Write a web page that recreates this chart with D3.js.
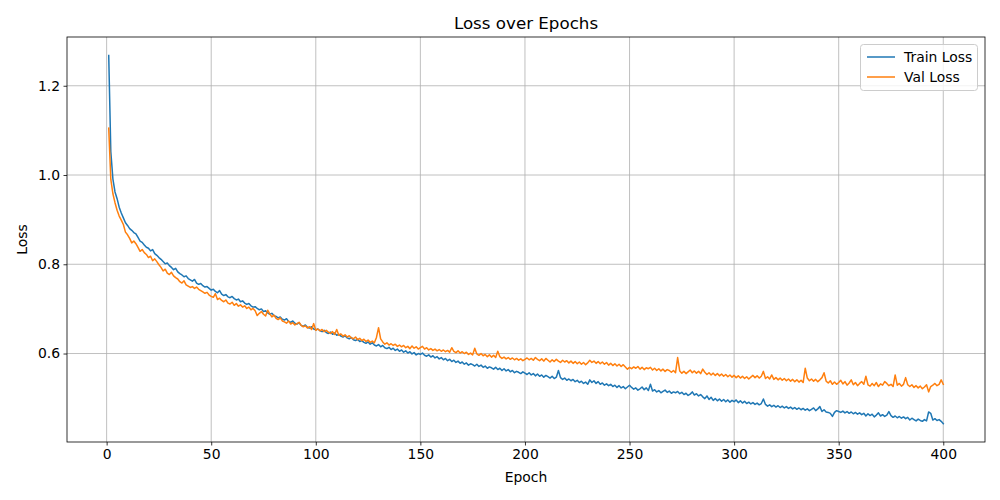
<!DOCTYPE html>
<html><head><meta charset="utf-8">
<script src="https://cdn.jsdelivr.net/npm/d3@7"></script>
<style>body{margin:0;background:#fff}svg{font-family:"DejaVu Sans",sans-serif}</style>
</head><body>
<script>
const trainLoss = [
1.268,1.052,0.991,0.962,0.947,0.928,0.915,0.904,0.893,0.887,
0.880,0.876,0.871,0.868,0.860,0.852,0.849,0.843,0.838,0.836,
0.830,0.833,0.824,0.820,0.815,0.811,0.806,0.801,0.803,0.797,
0.793,0.788,0.791,0.783,0.779,0.776,0.772,0.774,0.768,0.765,
0.762,0.766,0.758,0.755,0.757,0.752,0.749,0.750,0.746,0.742,
0.744,0.739,0.736,0.741,0.733,0.730,0.732,0.727,0.725,0.728,
0.723,0.720,0.722,0.716,0.718,0.713,0.710,0.712,0.707,0.704,
0.705,0.701,0.698,0.700,0.694,0.696,0.691,0.688,0.690,0.685,
0.683,0.680,0.682,0.677,0.675,0.678,0.672,0.670,0.673,0.668,
0.666,0.669,0.663,0.661,0.664,0.659,0.657,0.660,0.655,0.653,
0.655,0.651,0.649,0.652,0.647,0.645,0.648,0.643,0.646,0.641,
0.643,0.639,0.637,0.640,0.635,0.633,0.636,0.631,0.629,0.632,
0.627,0.629,0.625,0.623,0.626,0.621,0.624,0.619,0.617,0.620,
0.615,0.618,0.613,0.611,0.614,0.609,0.612,0.607,0.610,0.605,
0.608,0.603,0.606,0.601,0.604,0.599,0.602,0.597,0.600,0.598,
0.601,0.596,0.594,0.597,0.592,0.595,0.590,0.593,0.588,0.591,
0.586,0.589,0.584,0.587,0.582,0.585,0.580,0.583,0.578,0.581,
0.576,0.579,0.574,0.577,0.575,0.572,0.576,0.571,0.574,0.569,
0.572,0.567,0.570,0.568,0.565,0.569,0.564,0.567,0.562,0.566,
0.561,0.564,0.559,0.562,0.557,0.560,0.558,0.555,0.559,0.556,
0.553,0.557,0.552,0.555,0.550,0.554,0.549,0.552,0.547,0.551,
0.548,0.545,0.549,0.544,0.547,0.562,0.546,0.542,0.545,0.540,
0.543,0.539,0.542,0.537,0.540,0.535,0.538,0.533,0.536,0.531,
0.541,0.535,0.539,0.533,0.537,0.531,0.534,0.529,0.532,0.528,
0.531,0.526,0.529,0.524,0.528,0.523,0.526,0.521,0.525,0.529,
0.524,0.520,0.523,0.518,0.521,0.525,0.519,0.523,0.517,0.531,
0.516,0.519,0.514,0.517,0.512,0.515,0.518,0.513,0.516,0.511,
0.514,0.512,0.515,0.510,0.513,0.508,0.511,0.506,0.509,0.514,
0.507,0.510,0.505,0.508,0.503,0.499,0.505,0.497,0.502,0.495,
0.499,0.494,0.498,0.493,0.497,0.492,0.496,0.491,0.495,0.492,
0.496,0.490,0.494,0.489,0.493,0.488,0.491,0.487,0.490,0.486,
0.489,0.485,0.488,0.498,0.486,0.482,0.485,0.481,0.484,0.480,
0.483,0.479,0.482,0.478,0.481,0.477,0.480,0.476,0.479,0.475,
0.478,0.474,0.477,0.473,0.476,0.472,0.475,0.478,0.472,0.476,
0.481,0.470,0.474,0.469,0.468,0.466,0.459,0.468,0.472,0.470,
0.468,0.471,0.467,0.470,0.466,0.469,0.465,0.468,0.464,0.467,
0.463,0.466,0.460,0.465,0.461,0.464,0.458,0.462,0.467,0.460,
0.463,0.459,0.462,0.470,0.461,0.457,0.460,0.456,0.459,0.455,
0.458,0.454,0.457,0.451,0.455,0.452,0.449,0.453,0.450,0.448,
0.452,0.449,0.469,0.466,0.451,0.454,0.450,0.452,0.448,0.443
];
const valLoss = [
1.105,0.990,0.958,0.938,0.921,0.908,0.899,0.889,0.872,0.866,
0.858,0.848,0.852,0.846,0.838,0.829,0.833,0.826,0.822,0.815,
0.818,0.808,0.812,0.806,0.799,0.793,0.785,0.789,0.780,0.777,
0.782,0.774,0.770,0.767,0.761,0.758,0.763,0.754,0.751,0.748,
0.750,0.746,0.749,0.744,0.741,0.738,0.735,0.737,0.731,0.728,
0.726,0.734,0.721,0.724,0.719,0.716,0.720,0.713,0.711,0.715,
0.708,0.712,0.706,0.709,0.704,0.707,0.701,0.704,0.698,0.701,
0.696,0.685,0.690,0.694,0.688,0.684,0.697,0.689,0.682,0.686,
0.679,0.676,0.680,0.673,0.671,0.668,0.673,0.666,0.669,0.664,
0.667,0.670,0.663,0.660,0.662,0.657,0.660,0.654,0.667,0.652,
0.655,0.651,0.654,0.649,0.652,0.648,0.645,0.649,0.643,0.654,
0.641,0.644,0.639,0.642,0.637,0.640,0.635,0.633,0.637,0.631,
0.634,0.629,0.632,0.627,0.630,0.625,0.628,0.624,0.636,0.658,
0.633,0.626,0.621,0.624,0.619,0.622,0.618,0.621,0.616,0.619,
0.615,0.618,0.613,0.616,0.611,0.617,0.612,0.615,0.610,0.613,
0.616,0.610,0.613,0.608,0.611,0.607,0.610,0.606,0.609,0.605,
0.608,0.604,0.607,0.603,0.613,0.605,0.602,0.606,0.601,0.604,
0.600,0.603,0.598,0.601,0.597,0.612,0.599,0.596,0.600,0.595,
0.598,0.593,0.597,0.592,0.596,0.591,0.605,0.593,0.589,0.592,
0.588,0.591,0.587,0.590,0.586,0.589,0.585,0.588,0.584,0.587,
0.590,0.586,0.589,0.585,0.591,0.587,0.584,0.588,0.583,0.589,
0.585,0.581,0.586,0.582,0.587,0.583,0.580,0.585,0.581,0.584,
0.579,0.583,0.578,0.582,0.577,0.581,0.576,0.580,0.575,0.579,
0.585,0.580,0.583,0.578,0.582,0.577,0.581,0.576,0.580,0.574,
0.578,0.573,0.577,0.572,0.576,0.571,0.575,0.570,0.565,0.569,
0.566,0.570,0.567,0.571,0.565,0.569,0.564,0.568,0.566,0.569,
0.563,0.567,0.562,0.566,0.561,0.565,0.560,0.564,0.562,0.558,
0.562,0.557,0.591,0.561,0.556,0.560,0.555,0.559,0.563,0.557,
0.561,0.556,0.560,0.555,0.565,0.558,0.553,0.557,0.552,0.556,
0.551,0.555,0.550,0.554,0.549,0.553,0.548,0.552,0.547,0.551,
0.546,0.550,0.545,0.549,0.544,0.548,0.543,0.547,0.551,0.546,
0.550,0.545,0.549,0.560,0.544,0.548,0.543,0.552,0.542,0.546,
0.541,0.545,0.540,0.544,0.539,0.543,0.538,0.542,0.537,0.541,
0.536,0.540,0.535,0.567,0.545,0.539,0.543,0.538,0.542,0.537,
0.541,0.546,0.557,0.538,0.534,0.539,0.531,0.536,0.531,0.535,
0.540,0.532,0.537,0.529,0.534,0.541,0.530,0.535,0.528,0.533,
0.537,0.531,0.549,0.530,0.527,0.533,0.528,0.535,0.526,0.532,
0.529,0.537,0.533,0.528,0.531,0.526,0.552,0.529,0.533,0.527,
0.531,0.546,0.530,0.526,0.530,0.524,0.528,0.523,0.527,0.521,
0.525,0.530,0.514,0.526,0.529,0.533,0.528,0.531,0.541,0.531
];
const epochs = trainLoss.map((d,i)=>i+1);
const xTicks = [0,50,100,150,200,250,300,350,400];
const yTicks = [0.6,0.8,1.0,1.2];
const seriesNames = ["Train Loss","Val Loss"];
const seriesColors = ["#1f77b4","#ff7f0e"];

const W=1000,H=500;
const m={left:67,right:985,top:37,bottom:442};
const svg=d3.select("body").append("svg").attr("width",W).attr("height",H);
const allVals = trainLoss.concat(valLoss);
const ymin=d3.min(allVals), ymax=d3.max(allVals);
const ypad=(ymax-ymin)*0.05, xpad=(400-1)*0.05;
const x=d3.scaleLinear().domain([1-xpad,400+xpad]).range([m.left,m.right]);
const y=d3.scaleLinear().domain([ymin-ypad,ymax+ypad]).range([m.bottom,m.top]);

// grid
const g=svg.append("g");
g.selectAll(".gx").data(xTicks).join("line").attr("x1",d=>x(d)).attr("x2",d=>x(d)).attr("y1",m.top).attr("y2",m.bottom).attr("stroke","#b0b0b0").attr("stroke-width",0.8);
g.selectAll(".gy").data(yTicks).join("line").attr("y1",d=>y(d)).attr("y2",d=>y(d)).attr("x1",m.left).attr("x2",m.right).attr("stroke","#b0b0b0").attr("stroke-width",0.8);

// lines
const series=[trainLoss,valLoss];
const line=d3.line().x((d,i)=>x(epochs[i])).y(d=>y(d));
series.forEach((s,k)=>{
  svg.append("path").datum(s).attr("d",line).attr("fill","none").attr("stroke",seriesColors[k]).attr("stroke-width",1.5).attr("stroke-linejoin","round").attr("stroke-linecap","square");
});

// axes
const xAxis=d3.axisBottom(x).tickValues(xTicks).tickSize(3.5).tickPadding(3.5).tickFormat(d3.format("d"));
const yAxis=d3.axisLeft(y).tickValues(yTicks).tickSize(3.5).tickPadding(3.5).tickFormat(d3.format(".1f"));
const ax=svg.append("g").attr("transform",`translate(0,${m.bottom})`).call(xAxis);
const ay=svg.append("g").attr("transform",`translate(${m.left},0)`).call(yAxis);
[ax,ay].forEach(a=>{a.select(".domain").remove();a.selectAll("text").attr("font-size","13.9px").attr("fill","#000").attr("font-family","DejaVu Sans");a.selectAll("line").attr("stroke","#000").attr("stroke-width",0.8);});
svg.append("rect").attr("x",m.left).attr("y",m.top).attr("width",m.right-m.left).attr("height",m.bottom-m.top).attr("fill","none").attr("stroke","#000").attr("stroke-width",0.8);

// labels
svg.append("text").attr("x",(m.left+m.right)/2).attr("y",29).attr("text-anchor","middle").attr("font-size","16.7px").text("Loss over Epochs");
svg.append("text").attr("x",(m.left+m.right)/2).attr("y",482).attr("text-anchor","middle").attr("font-size","13.9px").text("Epoch");
svg.append("text").attr("transform",`translate(27,${(m.top+m.bottom)/2}) rotate(-90)`).attr("text-anchor","middle").attr("font-size","13.9px").text("Loss");

// legend
const lg=svg.append("g");
lg.append("rect").attr("x",860.5).attr("y",44.5).attr("width",117).attr("height",46).attr("rx",3).attr("fill","#fff").attr("fill-opacity",0.8).attr("stroke","#cccccc").attr("stroke-width",1);
seriesNames.forEach((n,k)=>{
  const yy=57+k*20;
  lg.append("line").attr("x1",867).attr("x2",895).attr("y1",yy).attr("y2",yy).attr("stroke",seriesColors[k]).attr("stroke-width",1.5);
  lg.append("text").attr("x",904).attr("y",yy+5).attr("font-size","13.9px").text(n);
});
</script>
</body></html>
